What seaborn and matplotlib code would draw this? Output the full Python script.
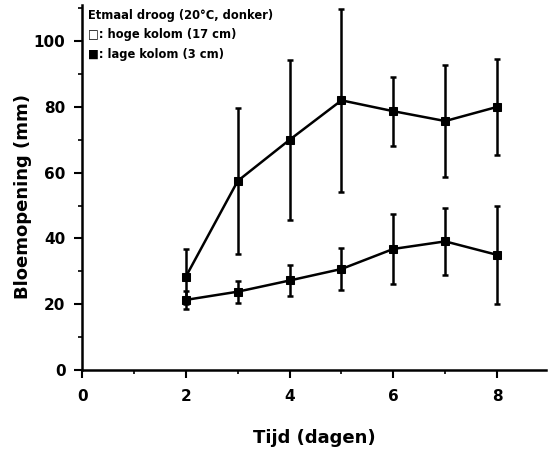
import numpy as np
import pandas as pd
import matplotlib
matplotlib.use("Agg")
import matplotlib.pyplot as plt
from matplotlib.ticker import MultipleLocator
import seaborn as sns

# data
days = [2, 3, 4, 5, 6, 7, 8]
hoge_mean = [28.4, 57.5, 70.0, 82.0, 78.7, 75.7, 80.0]
hoge_err = [8.5, 22.3, 24.3, 27.8, 10.5, 17.0, 14.6]
lage_mean = [21.3, 23.8, 27.2, 30.7, 36.8, 39.1, 35.0]
lage_err = [2.7, 3.3, 4.8, 6.5, 10.6, 10.3, 15.0]

sns.set_style("ticks")
plt.rcParams['font.family'] = ['DejaVu Sans']
plt.rcParams['font.weight'] = 'bold'
for k in ['text.color', 'axes.labelcolor', 'xtick.color', 'ytick.color', 'axes.edgecolor']:
    plt.rcParams[k] = 'black'

df = pd.DataFrame({
    "dag": days * 2,
    "opening": hoge_mean + lage_mean,
    "serie": ["hoge"] * len(days) + ["lage"] * len(days),
})

fig = plt.figure(figsize=(5.48, 4.55), dpi=100)
ax = fig.add_axes([0.150, 0.187, 0.846, 0.802])

sns.lineplot(data=df, x="dag", y="opening", units="serie", estimator=None,
             color="black", lw=1.8, marker="s", markersize=6,
             markeredgecolor="black", ax=ax, legend=False)

ax.errorbar(days, hoge_mean, yerr=hoge_err, fmt="none", ecolor="black",
            elinewidth=1.8, capsize=2.5, capthick=1.8)
ax.errorbar(days, lage_mean, yerr=lage_err, fmt="none", ecolor="black",
            elinewidth=1.8, capsize=2.5, capthick=1.8)

ax.set_xlim(0, 8.94)
ax.set_ylim(0, 111)
ax.xaxis.set_major_locator(MultipleLocator(2))
ax.xaxis.set_minor_locator(MultipleLocator(1))
ax.yaxis.set_major_locator(MultipleLocator(20))
ax.yaxis.set_minor_locator(MultipleLocator(10))
ax.tick_params(which="major", direction="out", length=6, width=1.5, labelsize=11, pad=6)
ax.tick_params(which="minor", direction="out", length=3, width=1.2)
ax.tick_params(axis="x", which="major", pad=8)
for lab in ax.get_xticklabels() + ax.get_yticklabels():
    lab.set_fontweight("bold")

sns.despine(ax=ax)
for s in ["left", "bottom"]:
    ax.spines[s].set_linewidth(1.8)

ax.set_xlabel("Tijd (dagen)", fontsize=13, fontweight="bold", labelpad=18)
ax.set_ylabel("Bloemopening (mm)", fontsize=13, fontweight="bold")
ax.yaxis.set_label_coords(-0.108, 0.474)

ax.text(0.012, 0.99, "Etmaal droog (20°C, donker)\n□: hoge kolom (17 cm)\n■: lage kolom (3 cm)",
        transform=ax.transAxes, va="top", ha="left", fontsize=8.3,
        fontweight="bold", linespacing=1.65)

fig.savefig("out.png", dpi=100)
